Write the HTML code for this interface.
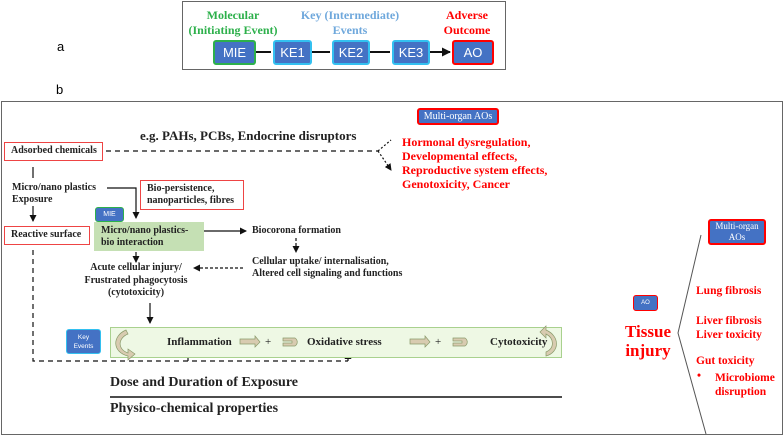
<!DOCTYPE html>
<html><head><meta charset="utf-8"><style>
body{margin:0;width:784px;height:436px;background:#fff;position:relative;overflow:hidden;font-family:"Liberation Serif",serif;}
.t{position:absolute;white-space:nowrap;line-height:1;}
.bx{position:absolute;box-sizing:border-box;}
.blue{background:#4472c4;color:#fff;font-family:"Liberation Sans",sans-serif;display:flex;align-items:center;justify-content:center;text-align:center;border-radius:3px;}
.r{color:#f00;font-weight:bold;}
.k{color:#222;}
</style></head><body>
<div class="t" style="left:57px;top:40px;font-family:'Liberation Sans',sans-serif;font-size:13px">a</div>
<div class="t" style="left:56px;top:83px;font-family:'Liberation Sans',sans-serif;font-size:13px">b</div>

<div class="bx" style="left:182px;top:1px;width:324px;height:69px;border:1.5px solid #666"></div>
<div class="t" style="left:183px;top:8px;width:100px;text-align:center;font-size:12px;font-weight:bold;color:#2db04b;line-height:15px">Molecular<br>(Initiating Event)</div>
<div class="t" style="left:300px;top:8px;width:100px;text-align:center;font-size:12px;font-weight:bold;color:#6fa8dc;line-height:15px">Key (Intermediate)<br>Events</div>
<div class="t" style="left:440px;top:8px;width:54px;text-align:center;font-size:12px;font-weight:bold;color:#f00;line-height:15px">Adverse<br>Outcome</div>
<div class="bx blue" style="left:213px;top:40px;width:43px;height:25px;border:2px solid #2db04b;font-size:13px">MIE</div>
<div class="bx blue" style="left:273px;top:40px;width:39px;height:25px;border:2px solid #33c0f0;font-size:13px">KE1</div>
<div class="bx blue" style="left:332px;top:40px;width:38px;height:25px;border:2px solid #33c0f0;font-size:13px">KE2</div>
<div class="bx blue" style="left:392px;top:40px;width:38px;height:25px;border:2px solid #33c0f0;font-size:13px">KE3</div>
<div class="bx blue" style="left:452px;top:40px;width:42px;height:25px;border:2px solid #f00;font-size:13px">AO</div>

<div class="bx" style="left:1px;top:101px;width:782px;height:334px;border:1px solid #666"></div>

<svg width="784" height="436" style="position:absolute;left:0;top:0">
<defs>
<marker id="a" markerUnits="userSpaceOnUse" markerWidth="7" markerHeight="7" refX="6" refY="3.5" orient="auto"><path d="M0,0L7,3.5L0,7z" fill="#111"/></marker>
<marker id="b" markerUnits="userSpaceOnUse" markerWidth="9" markerHeight="9" refX="8" refY="4.5" orient="auto"><path d="M0,0L9,4.5L0,9z" fill="#111"/></marker>
</defs>
<g stroke="#111" stroke-width="1.2" fill="none">
<path d="M256,52H271M312,52H330M370,52H390M430,52H450" marker-end="url(#b)" stroke-width="2"/>
<path d="M106,151H378" stroke-dasharray="5,4"/>
<path d="M378,151L391,140M378,151L391,170" stroke-dasharray="2,2" marker-end="url(#a)"/>
<path d="M33,178V167M33,206V221" marker-end="url(#a)"/>
<path d="M107,188H136V218" marker-end="url(#a)"/>
<path d="M196,231H246" marker-end="url(#a)"/>
<path d="M296,238V252" stroke-dasharray="3,2" marker-end="url(#a)"/>
<path d="M243,268H194" stroke-dasharray="3,2" marker-end="url(#a)"/>
<path d="M136,252V262" marker-end="url(#a)"/>
<path d="M150,303V323" marker-end="url(#a)"/>
<path d="M33,250V361H348" stroke-dasharray="5,4"/>
<path d="M188,361V353M348,361V353" marker-end="url(#a)"/>
<path d="M110,397H562" stroke-width="1.6"/>
<path d="M701,235L678,333L706,434" stroke="#555" stroke-width="1"/>
</g>
</svg>

<div class="t k" style="left:140px;top:129px;font-size:13px;font-weight:bold">e.g. PAHs, PCBs, Endocrine disruptors</div>
<div class="bx" style="left:4px;top:142px;width:99px;height:19px;border:1px solid #e44;"></div>
<div class="t k" style="left:11px;top:146px;font-size:10px;font-weight:bold">Adsorbed chemicals</div>
<div class="bx blue" style="left:417px;top:108px;width:82px;height:17px;border:2px solid #f00;font-family:'Liberation Serif',serif;font-size:10px">Multi-organ AOs</div>
<div class="t r" style="left:402px;top:135px;font-size:12px;line-height:14px">Hormonal dysregulation,<br>Developmental effects,<br>Reproductive system effects,<br>Genotoxicity, Cancer</div>

<div class="t k" style="left:12px;top:182px;font-size:10px;font-weight:bold;line-height:12px">Micro/nano plastics<br>Exposure</div>
<div class="bx" style="left:4px;top:226px;width:86px;height:19px;border:1px solid #e44;"></div>
<div class="t k" style="left:11px;top:230px;font-size:10px;font-weight:bold">Reactive surface</div>
<div class="bx" style="left:140px;top:180px;width:104px;height:30px;border:1px solid #e44;"></div>
<div class="t k" style="left:147px;top:183px;font-size:10px;font-weight:bold;line-height:12px">Bio-persistence,<br>nanoparticles, fibres</div>
<div class="bx" style="left:94px;top:222px;width:110px;height:29px;background:#c5e0b4"></div>
<div class="bx blue" style="left:95px;top:207px;width:29px;height:15px;border:1.5px solid #2db04b;font-size:7px">MIE</div>
<div class="t k" style="left:101px;top:225px;font-size:10px;font-weight:bold;line-height:12px">Micro/nano plastics-<br>bio interaction</div>
<div class="t k" style="left:252px;top:226px;font-size:10px;font-weight:bold">Biocorona formation</div>
<div class="t k" style="left:252px;top:256px;font-size:10px;font-weight:bold;line-height:12px">Cellular uptake/ internalisation,<br>Altered cell signaling and functions</div>
<div class="t k" style="left:80px;top:262px;width:112px;text-align:center;font-size:10px;font-weight:bold;line-height:12.5px">Acute cellular injury/<br>Frustrated phagocytosis<br>(cytotoxicity)</div>

<div class="bx blue" style="left:66px;top:329px;width:35px;height:25px;border:1.5px solid #33c0f0;font-size:6.5px;line-height:9px">Key<br>Events</div>
<div class="bx" style="left:110px;top:327px;width:452px;height:31px;background:#eef8e4;border:1px solid #a9d18e"></div>
<svg width="784" height="436" style="position:absolute;left:0;top:0">
<g fill="#d8cbb0" stroke="#8a9a6a" stroke-width="0.7">
<path d="M126,330C112,336 112,352 128,356L128,360L135,354L128,349L128,353C117,349 118,338 128,334Z"/>
<path d="M546,330C560,336 560,352 546,356L546,352C555,348 554,338 546,334L546,338L540,332L546,326Z"/>
<path d="M240,339H255V336L260,342L255,347V344H240Z"/>
<path d="M283,338H295C298,340 298,344 295,346H283V343H292V341H283Z"/>
<path d="M410,339H425V336L430,342L425,347V344H410Z"/>
<path d="M453,338H465C468,340 468,344 465,346H453V343H462V341H453Z"/>
</g></svg>
<div class="t k" style="left:167px;top:337px;font-size:11px;font-weight:bold">Inflammation</div>
<div class="t k" style="left:265px;top:337px;font-size:11px">+</div>
<div class="t k" style="left:307px;top:337px;font-size:11px;font-weight:bold">Oxidative stress</div>
<div class="t k" style="left:435px;top:337px;font-size:11px">+</div>
<div class="t k" style="left:490px;top:337px;font-size:11px;font-weight:bold">Cytotoxicity</div>
<div class="t k" style="left:110px;top:376px;font-size:14px;font-weight:bold">Dose and Duration of Exposure</div>
<div class="t k" style="left:110px;top:402px;font-size:14px;font-weight:bold">Physico-chemical properties</div>

<div class="bx blue" style="left:633px;top:295px;width:25px;height:16px;border:1.5px solid #f00;font-size:6px">AO</div>
<div class="t r" style="left:614px;top:322px;width:68px;text-align:center;font-size:17px;line-height:19px">Tissue<br>injury</div>
<div class="bx blue" style="left:708px;top:219px;width:58px;height:26px;border:2px solid #f00;font-family:'Liberation Serif',serif;font-size:9px;line-height:11px">Multi-organ<br>AOs</div>
<div class="t r" style="left:696px;top:286px;font-size:11.5px">Lung fibrosis</div>
<div class="t r" style="left:696px;top:314px;font-size:11.5px;line-height:14px">Liver fibrosis<br>Liver toxicity</div>
<div class="t r" style="left:696px;top:356px;font-size:11.5px">Gut toxicity</div>
<div class="t r" style="left:697px;top:371px;font-size:11.5px">•</div>
<div class="t r" style="left:715px;top:371px;font-size:11.5px;line-height:14px">Microbiome<br>disruption</div>
</body></html>
